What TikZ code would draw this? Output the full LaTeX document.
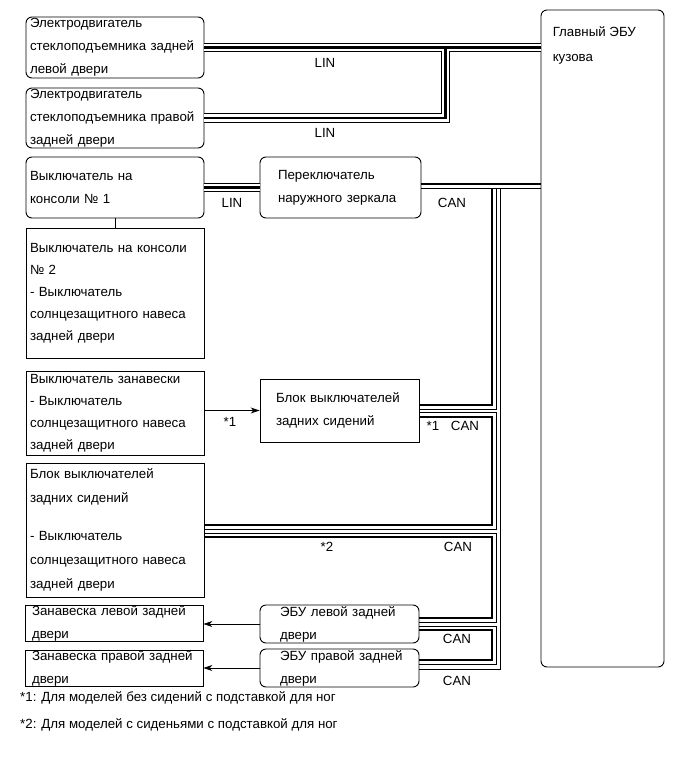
\documentclass[tikz,border=0pt]{standalone}
\usepackage{fontspec}
\setmainfont{Liberation Sans}
\usetikzlibrary{arrows.meta,calc}
\tikzset{
  txt/.style = {font=\fontsize{13.3}{23}\selectfont, inner sep=0pt},
  box/.style = {draw, line width=0.9pt, align=left, inner ysep=0pt, inner xsep=4pt,
                font=\fontsize{13.3}{23}\selectfont},
  rbox/.style = {box, rounded corners=6pt},
  busout/.style = {line width=9.4pt},
  busin/.style = {white, line width=7.4pt},
  buscore/.style = {line width=2.6pt},
  canthick/.style = {line width=2.6pt},
  canthin/.style = {line width=1pt},
  arr/.style = {line width=0.8pt, -{Stealth[length=9pt,width=6pt]}}
}

\begin{document}
\begin{tikzpicture}[x=1pt, y=-1pt]
\useasboundingbox (0,0) rectangle (691,757);
% left column
\node[rbox, text width=170pt, minimum height=61pt] (m1) at (115,47.5) {Электродвигатель\\стеклоподъемника задней\\левой двери};
\node[rbox, text width=170pt, minimum height=60pt] (m2) at (115,118) {Электродвигатель\\стеклоподъемника правой\\задней двери};
\node[rbox, text width=170pt, minimum height=61pt] (sw1) at (115,187.5) {Выключатель на\\консоли № 1};
\node[box, text width=170pt, minimum height=130pt, font=\fontsize{13.3}{22}\selectfont] (sw2) at (115,293)
  {Выключатель на консоли\\№ 2\\- Выключатель\\солнцезащитного навеса\\задней двери};
\node[box, text width=170pt, minimum height=84pt, font=\fontsize{13.3}{22}\selectfont] (sw5) at (115,413)
  {Выключатель занавески\\- Выключатель\\солнцезащитного навеса\\задней двери};
\node[box, text width=170pt, minimum height=134pt, font=\fontsize{13.3}{24}\selectfont] (rsb) at (115,530)
  {Блок выключателей\\задних сидений\\[14pt]- Выключатель\\солнцезащитного навеса\\задней двери};
\node[box, text width=164pt, inner xsep=7pt, minimum height=36pt] (cl) at (114,623) {Занавеска левой задней\\двери};
\node[box, text width=164pt, inner xsep=7pt, minimum height=35pt] (cr) at (114,668.5) {Занавеска правой задней\\двери};
% middle column
\node[rbox, text width=125pt, inner xsep=18pt, minimum height=61pt] (mir) at (340.5,187.5) {Переключатель\\наружного зеркала};
\node[box, text width=127pt, inner xsep=16pt, minimum height=63pt] (rsw) at (339.5,410.5) {Блок выключателей\\задних сидений};
\node[rbox, text width=129pt, inner xsep=15pt, minimum height=38pt] (eld) at (339.5,624) {\hspace*{5pt}ЭБУ левой задней\\\hspace*{5pt}двери};
\node[rbox, text width=129pt, inner xsep=15pt, minimum height=38pt] (erd) at (339.5,668) {\hspace*{5pt}ЭБУ правой задней\\\hspace*{5pt}двери};
% body ECU
\node[rbox, minimum width=123pt, minimum height=657pt,
      label={[txt, anchor=north west, align=left, xshift=12pt, yshift=-17pt, font=\fontsize{13.3}{25}\selectfont]north west:{Главный ЭБУ\\кузова}}]
  (ecu) at (602.5,338.5) {};

% LIN
\coordinate (lj) at (445.5,0);
\foreach \layer in {busout,busin,buscore}{
  \draw[\layer] (m1.east) -- (m1.east -| ecu.west);
  \draw[\layer] (m2.east) -- (m2.east -| lj) -- (lj |- m1.east);
  \draw[\layer] (sw1.east) -- (mir.west);
}

% CAN
\coordinate (ct) at (492,0);
\coordinate (cn) at (496.5,0);
\coordinate (cx) at (500.5,0);
\path (mir.east) ++(0,-3.5) coordinate (k0) ++(0,4.5) coordinate (n0);
\path (rsw.east) ++(0,-5.5) coordinate (k1) ++(0,4.5) coordinate (n1) ++(0,3) coordinate (n2) ++(0,4.5) coordinate (k2);
\path (rsb.east) ++(0,-5) coordinate (k3) ++(0,4.5) coordinate (n3) ++(0,3.5) coordinate (n4) ++(0,4) coordinate (k4);
\path (eld.east) ++(0,-6) coordinate (k5) ++(0,4.5) coordinate (n5) ++(0,4) coordinate (n6) ++(0,3.5) coordinate (k6);
\path (erd.east) ++(0,-8) coordinate (k7) ++(0,4.5) coordinate (n7) ++(0,4.5) coordinate (nx);

\draw[canthick] (k0) -- (k0 -| ecu.west);
\draw[canthick] (ct |- n0) -- (ct |- k1) -- (k1);
\draw[canthick] (k2) -- (ct |- k2) -- (ct |- k3) -- (k3);
\draw[canthick] (k4) -- (ct |- k4) -- (ct |- k5) -- (k5);
\draw[canthick] (k6) -- (ct |- k6) -- (ct |- k7) -- (k7);

\draw[canthin] (n0) -- (n0 -| ecu.west);
\draw[canthin] (cn |- n0) -- (cn |- n1) -- (n1);
\draw[canthin] (n2) -- (cn |- n2) -- (cn |- n3) -- (n3);
\draw[canthin] (n4) -- (cn |- n4) -- (cn |- n5) -- (n5);
\draw[canthin] (n6) -- (cn |- n6) -- (cn |- n7) -- (n7);
\draw[canthin] (cx |- n0) -- (cx |- nx) -- (nx);

% other links
\draw[line width=0.8pt] (sw1) -- (sw2);
\draw[arr] (sw5.east |- rsw.west) -- (rsw.west);
\draw[arr] (eld.west) -- (eld.west -| cl.east);
\draw[arr] (erd.west) -- (erd.west -| cr.east);

% labels
\node[txt] (lin1) at (325,63) {LIN};
\node[txt] (lin2) at (325,133) {LIN};
\node[txt] (lin3) at (232,203) {LIN};
\node[txt] (can1) at (452,203) {CAN};
\node[txt] (st1) at (230,422) {*1};
\node[txt] (st2) at (433,426) {*1};
\node[txt] (can2) at (465,426) {CAN};
\node[txt] (st3) at (327,547) {*2};
\node[txt] (can3) at (458,547) {CAN};
\node[txt] (can4) at (457,639) {CAN};
\node[txt] (can5) at (457,681) {CAN};
\node[txt, anchor=west] (fn1) at (20,698) {*1: Для моделей без сидений с подставкой для ног};
\node[txt, anchor=west] (fn2) at (20,725) {*2: Для моделей с сиденьями с подставкой для ног};
\end{tikzpicture}
\end{document}
